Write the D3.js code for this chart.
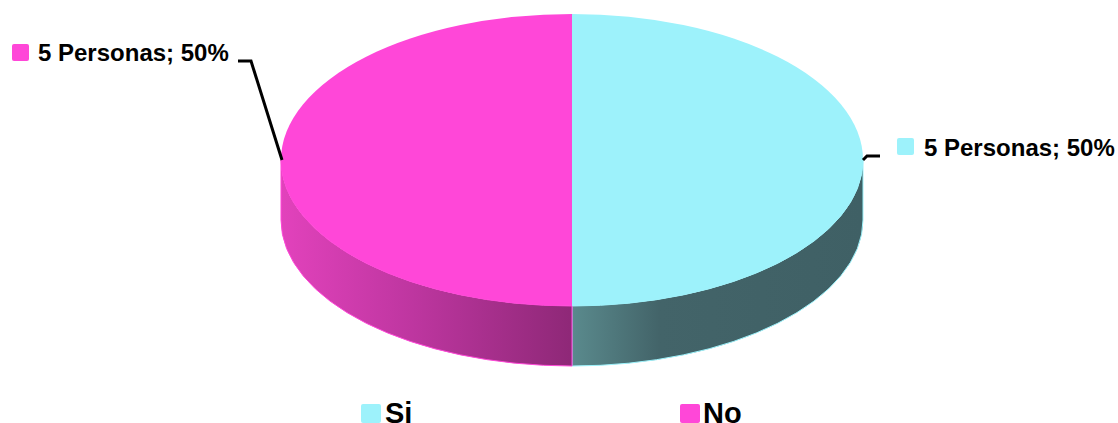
<!DOCTYPE html>
<html><head><meta charset="utf-8">
<script src="https://cdnjs.cloudflare.com/ajax/libs/d3/7.8.5/d3.min.js"></script>
<style>html,body{margin:0;padding:0;background:#fff;overflow:hidden}svg{display:block}text{font-family:"Liberation Sans",Arial,sans-serif;font-weight:700;fill:#000}</style>
</head><body><svg id="c" width="1118" height="423"></svg>
<script>
const categories = ["Si", "No"];
const values = [5, 5];
const percents = ["50%", "50%"];
const unit = "Personas";
const topColors = ["#9DF2FB", "#FF47D8"];
const edgeColors = ["#9DF2FB", "#FF47D8"];
const sideStops = [
  [["0%", "#5A8A8D"], ["30%", "#436469"], ["100%", "#3F6065"]],
  [["0%", "#E242BC"], ["45%", "#BE36A0"], ["100%", "#8E2877"]]
];
const cx = 572, cy = 160, rx = 291, ry = 146, depth = 60;

const svg = d3.select("#c");
const defs = svg.append("defs");
const pie = d3.pie().value(d => d).sort(null);
const arcs = pie(values);

const px = a => cx + rx * Math.sin(a);
const py = a => cy - ry * Math.cos(a);

arcs.forEach((s, i) => {
  const g = defs.append("linearGradient").attr("id", "side" + i)
    .attr("gradientUnits", "userSpaceOnUse").attr("y1", 0).attr("y2", 0);
  if (i === 0) g.attr("x1", cx).attr("x2", cx + rx); else g.attr("x1", cx - rx).attr("x2", cx);
  sideStops[i].forEach(st => g.append("stop").attr("offset", st[0]).attr("stop-color", st[1]));
});

// side walls: the visible, front half of each slice
arcs.forEach((s, i) => {
  const a0 = Math.max(s.startAngle, Math.PI / 2), a1 = Math.min(s.endAngle, 3 * Math.PI / 2);
  const x0 = px(a0), y0 = py(a0), x1 = px(a1), y1 = py(a1);
  const d = `M${x0},${y0}A${rx},${ry} 0 0 1 ${x1},${y1}L${x1},${y1 + depth}A${rx},${ry} 0 0 0 ${x0},${y0 + depth}Z`;
  svg.append("path").attr("d", d).attr("fill", `url(#side${i})`)
    .attr("stroke", edgeColors[i]).attr("stroke-width", 1);
});

// top face
const arc = d3.arc().innerRadius(0).outerRadius(1);
svg.append("g").attr("transform", `translate(${cx},${cy}) scale(${rx},${ry})`)
  .selectAll("path").data(arcs).join("path")
  .attr("d", arc).attr("fill", (d, i) => topColors[i]);

// leader lines
const leaders = [
  [[863, 160], [867, 156], [880, 156]],
  [[282, 160], [251, 61], [238, 61]]
];
const line = d3.line();
svg.selectAll("path.leader").data(leaders).join("path").attr("class", "leader")
  .attr("d", line).attr("fill", "none").attr("stroke", "#000").attr("stroke-width", 3);

// data labels
const labelPos = [[897, 138, 924, 155.5], [12, 44, 38, 61]];
arcs.forEach((s, i) => {
  const p = labelPos[i];
  svg.append("rect").attr("x", p[0]).attr("y", p[1]).attr("width", 17).attr("height", 17).attr("rx", 2).attr("fill", topColors[i]);
  svg.append("text").attr("x", p[2]).attr("y", p[3]).attr("font-size", 24)
    .text(`${s.value} ${unit}; ${percents[i]}`);
});

// legend
const legendPos = [[361, 385], [680, 703]];
categories.forEach((c, i) => {
  svg.append("rect").attr("x", legendPos[i][0]).attr("y", 404).attr("width", 20).attr("height", 19).attr("rx", 2).attr("fill", topColors[i]);
  svg.append("text").attr("x", legendPos[i][1]).attr("y", 423).attr("font-size", 29).text(c);
});
</script></body></html>
